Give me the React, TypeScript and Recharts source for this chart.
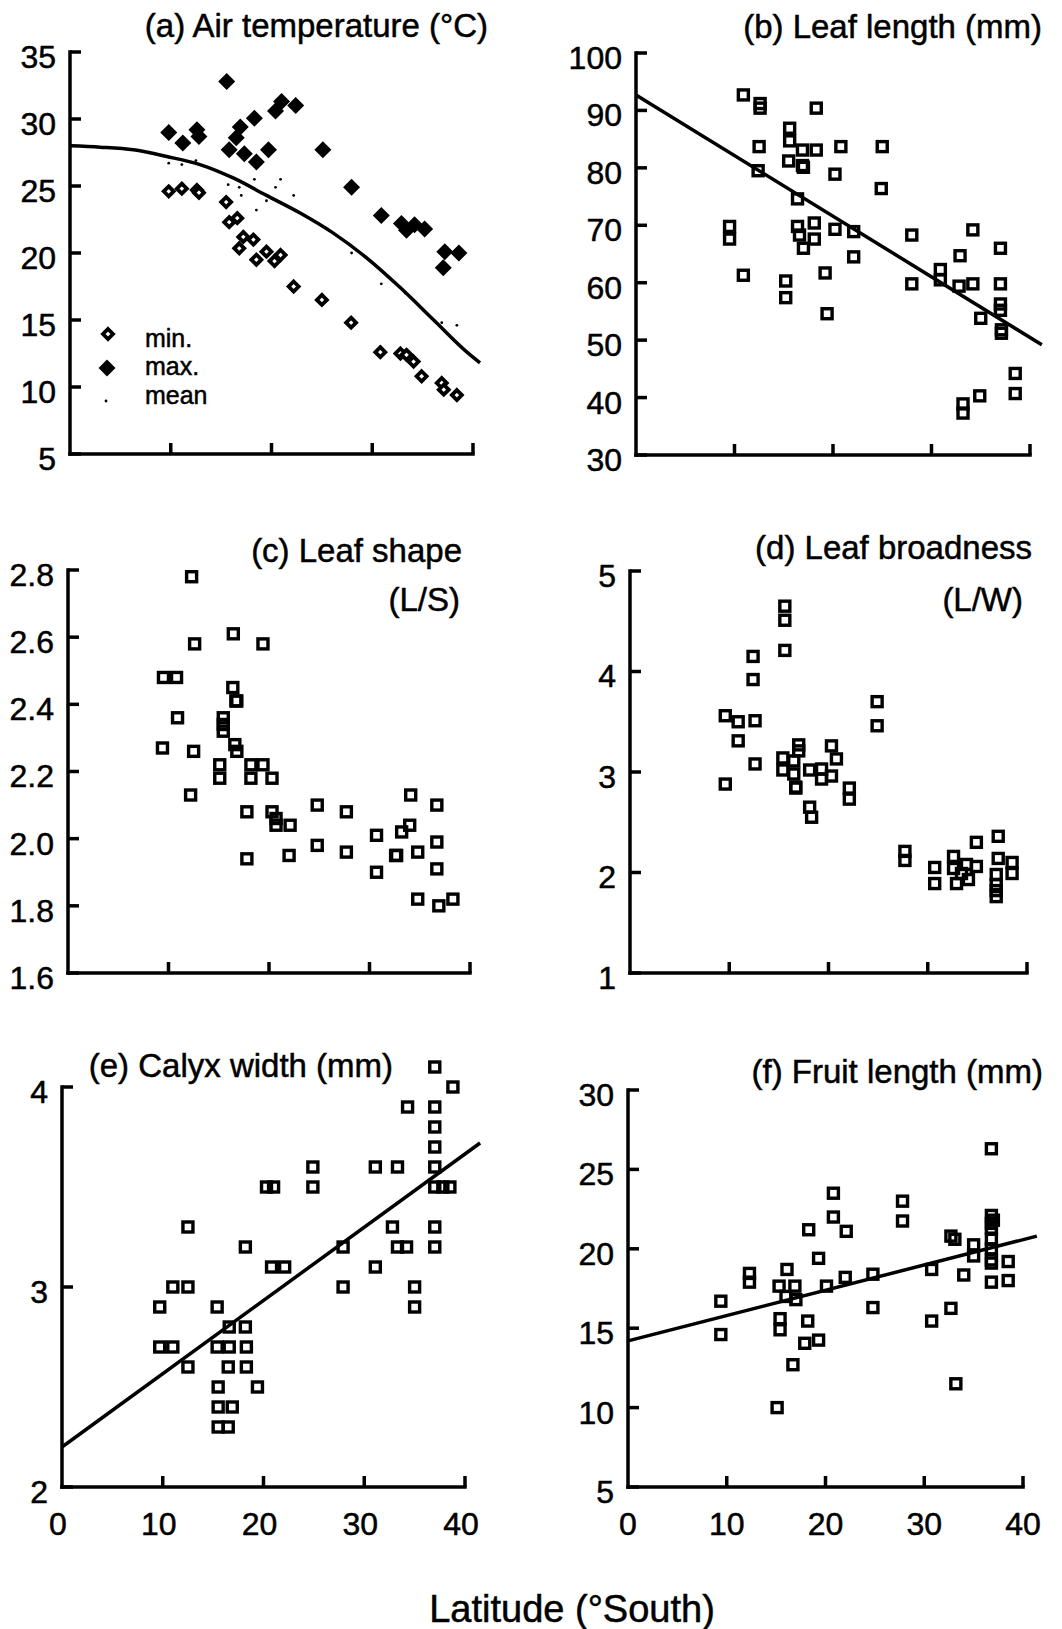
import React from 'react';
import { ComposedChart, Scatter, Line, XAxis, YAxis, ReferenceLine, Customized } from 'recharts';

const FONT = '"Liberation Sans", Arial, Helvetica, sans-serif';
const LAT_TICKS = [0, 10, 20, 30, 40];

type Pt = [number, number];

// (a) Air temperature
const airMax: Pt[] = [[9.8,29.0],[11.2,28.2],[12.6,29.2],[12.8,28.7],[15.55,32.8],[15.8,27.7],[16.5,28.6],[16.9,29.4],[17.3,27.4],[18.3,30.05],[18.5,26.8],[19.7,27.7],[20.4,30.6],[21.0,31.3],[22.4,31.0],[25.1,27.7],[27.95,24.9],[30.9,22.8],[32.9,22.2],[33.4,21.7],[34.2,22.1],[35.2,21.8],[37.05,18.9],[37.2,20.1],[38.6,20.0]];
const airMin: Pt[] = [[9.8,24.6],[11.1,24.8],[12.6,24.7],[12.8,24.5],[15.5,23.8],[15.8,22.3],[16.6,22.6],[16.8,20.35],[17.2,21.2],[18.2,21.0],[18.5,19.5],[19.5,20.1],[20.3,19.4],[20.9,19.85],[22.2,17.5],[25.0,16.5],[27.9,14.8],[30.8,12.6],[32.8,12.5],[33.4,12.4],[34.1,11.9],[34.9,10.8],[36.9,10.3],[37.1,9.8],[38.4,9.4]];
const airMean: Pt[] = [[9.8,26.7],[11.1,26.6],[12.5,26.9],[15.7,25.1],[16.8,24.9],[17.0,24.3],[18.3,25.5],[18.5,23.2],[19.5,23.9],[20.4,24.9],[20.9,25.5],[22.2,24.3],[27.95,20.0],[30.9,17.7],[32.8,17.4],[33.3,17.0],[36.9,14.8],[38.4,14.6]];
const airCurve: Pt[] = [[0,28.0],[3,27.9],[6.3,27.7],[9.6,27.2],[12.9,26.6],[16.2,25.6],[19.5,24.3],[22.8,23.0],[26.1,21.5],[29.5,19.6],[32.8,17.4],[36.1,15.0],[39.4,12.6],[40.7,11.8]];

// (b) Leaf length
const leafLength: Pt[] = [[10.9,92.7],[12.6,91.2],[12.6,90.4],[12.5,83.7],[12.4,79.5],[9.5,69.8],[9.5,67.6],[10.9,61.3],[15.6,86.9],[15.6,84.7],[15.5,81.2],[16.9,83.1],[16.9,80.4],[17.0,80.1],[18.3,90.4],[18.3,83.1],[20.8,83.7],[20.2,78.9],[25.0,83.7],[24.9,76.4],[16.4,74.6],[16.4,69.8],[16.6,68.3],[17.0,66.0],[18.1,70.4],[18.1,67.6],[20.2,69.3],[22.1,68.9],[22.1,64.5],[19.2,61.7],[19.4,54.6],[15.2,60.3],[15.2,57.4],[28.0,68.3],[28.0,59.8],[30.9,62.3],[30.9,60.5],[32.9,64.7],[32.8,59.4],[34.2,69.2],[34.2,59.8],[35.0,53.8],[37.0,66.0],[37.0,59.8],[37.0,56.3],[37.0,55.2],[37.1,51.8],[37.1,51.2],[38.5,44.2],[38.5,40.7],[33.2,38.9],[33.2,37.3],[34.9,40.3]];
const leafLengthFit: Pt[] = [[0,92.7],[41.2,49.2]];

// (c) Leaf shape
const leafShape: Pt[] = [[12.3,2.78],[12.6,2.58],[16.45,2.61],[19.4,2.58],[9.5,2.48],[10.8,2.48],[10.9,2.36],[9.4,2.27],[12.5,2.26],[12.2,2.13],[16.4,2.45],[16.8,2.41],[16.7,2.41],[15.45,2.36],[15.45,2.34],[15.45,2.32],[16.6,2.28],[16.8,2.26],[15.1,2.22],[15.1,2.18],[18.2,2.22],[18.2,2.18],[19.4,2.22],[20.3,2.18],[17.8,2.08],[17.8,1.94],[20.3,2.08],[20.7,2.06],[20.7,2.04],[22.1,2.04],[22.0,1.95],[24.8,2.10],[24.8,1.98],[27.7,2.08],[27.7,1.96],[30.7,2.01],[30.7,1.90],[32.6,1.95],[32.7,1.95],[33.2,2.02],[34.0,2.04],[34.1,2.13],[34.8,1.96],[34.8,1.82],[36.7,2.10],[36.7,1.99],[36.7,1.91],[36.9,1.80],[38.3,1.82]];

// (d) Leaf broadness
const leafBroad: Pt[] = [[15.6,4.65],[15.6,4.51],[15.6,4.21],[12.4,4.15],[12.4,3.92],[9.6,3.56],[10.9,3.50],[12.6,3.51],[10.9,3.31],[12.6,3.08],[9.6,2.88],[24.9,3.70],[24.9,3.46],[17.0,3.27],[17.0,3.21],[15.4,3.14],[15.4,3.02],[16.5,3.11],[16.5,2.98],[16.7,2.85],[16.7,2.84],[18.1,3.02],[19.3,3.03],[19.3,2.93],[20.3,3.26],[20.3,2.96],[20.8,3.13],[18.1,2.65],[18.3,2.55],[22.1,2.84],[22.1,2.73],[27.7,2.21],[27.7,2.12],[30.7,2.05],[30.7,1.89],[32.6,2.16],[32.6,2.04],[32.9,1.89],[33.4,1.99],[33.9,2.08],[34.1,1.93],[34.9,2.06],[34.9,2.30],[37.1,2.36],[37.1,2.14],[36.9,1.98],[36.9,1.88],[36.9,1.82],[36.9,1.76],[38.5,2.10],[38.5,1.99]];

// (e) Calyx width
const calyx: Pt[] = [[37.0,4.1],[38.8,4.0],[34.3,3.9],[37.0,3.9],[37.0,3.8],[37.0,3.7],[37.0,3.6],[37.0,3.5],[37.8,3.5],[38.5,3.5],[37.0,3.3],[37.0,3.2],[31.1,3.6],[33.3,3.6],[32.8,3.3],[33.3,3.2],[34.2,3.2],[31.1,3.1],[35.0,3.0],[35.0,2.9],[27.9,3.2],[27.9,3.0],[24.9,3.6],[24.9,3.5],[20.3,3.5],[21.0,3.5],[20.8,3.1],[22.1,3.1],[18.2,3.2],[12.5,3.3],[11.0,3.0],[12.5,3.0],[9.7,2.9],[9.7,2.7],[11.0,2.7],[12.5,2.6],[15.4,2.9],[16.6,2.8],[18.2,2.8],[15.4,2.7],[16.6,2.7],[18.3,2.7],[16.5,2.6],[18.3,2.6],[15.5,2.5],[19.4,2.5],[15.5,2.4],[16.9,2.4],[15.5,2.3],[16.5,2.3]];
const calyxFit: Pt[] = [[0,2.2],[41.5,3.72]];

// (f) Fruit length
const fruit: Pt[] = [[36.8,26.3],[20.8,23.5],[20.8,22.0],[22.1,21.1],[18.3,21.2],[19.3,19.4],[27.8,23.0],[27.8,21.75],[12.3,18.45],[12.3,17.9],[16.1,18.7],[15.3,17.65],[16.9,17.65],[17.0,16.8],[16.0,17.0],[15.4,15.6],[15.4,14.9],[18.2,15.45],[17.9,14.05],[19.3,14.25],[16.7,12.7],[15.1,10.0],[9.4,16.7],[9.4,14.6],[20.1,17.65],[22.0,18.2],[24.8,18.4],[24.8,16.3],[30.75,18.7],[30.75,15.45],[32.7,20.8],[33.1,20.6],[32.7,16.25],[33.2,11.5],[34.0,18.35],[35.0,20.25],[35.0,19.55],[36.8,22.1],[37.0,21.8],[36.8,21.6],[36.8,21.3],[36.8,20.6],[36.8,20.0],[36.8,19.3],[36.8,19.1],[36.8,17.9],[38.5,19.2],[38.5,18.0]];
const fruitFit: Pt[] = [[0,14.2],[41.4,20.8]];

const toXY = (pts: Pt[]) => pts.map(([x, y]) => ({ x, y }));

const TICK_LEN = 11;
const AXIS_W = 3.5;

const Square = (p: any) => (
  <rect x={p.cx - 5} y={p.cy - 5} width={10} height={10} fill="none" stroke="#000" strokeWidth={3.4} />
);
const OpenDiamond = (p: any) => {
  const h = 5;
  return (
    <polygon
      points={`${p.cx},${p.cy - h} ${p.cx + h},${p.cy} ${p.cx},${p.cy + h} ${p.cx - h},${p.cy}`}
      fill="#fff" stroke="#000" strokeWidth={3.8} strokeLinejoin="miter"
    />
  );
};
const FilledDiamond = (p: any) => {
  const h = 8.5;
  return (
    <polygon
      points={`${p.cx},${p.cy - h} ${p.cx + h},${p.cy} ${p.cx},${p.cy + h} ${p.cx - h},${p.cy}`}
      fill="#000" stroke="none"
    />
  );
};
const Dot = (p: any) => <circle cx={p.cx} cy={p.cy} r={1.4} fill="#000" />;
const NoShape = () => <g />;

type Cfg = {
  left: number; top: number; yw: number; mt: number; pw: number; ph: number; xh: number;
  yDomain: [number, number]; yTicks: number[]; yTop: number; fmt: (v: number) => string;
  xLabels: boolean; xLabelDx: number;
};

const txt = (size: number) => ({ fontSize: size, fontFamily: FONT, fill: '#000', stroke: '#000', strokeWidth: 0.5 });

function Panel({ cfg, children }: { cfg: Cfg; children: React.ReactNode }) {
  const { left, top, yw, mt, pw, ph, xh, yDomain, yTicks, yTop, fmt, xLabels, xLabelDx } = cfg;
  const mr = 10;
  const width = yw + pw + mr;
  const height = mt + ph + xh;
  const axisY = mt + ph;
  const axisX = yw;
  const XTick = (props: any) => {
    const { x, payload } = props;
    return (
      <g>
        {payload.value !== 0 && (
          <line x1={x} x2={x} y1={axisY} y2={axisY - TICK_LEN} stroke="#000" strokeWidth={AXIS_W} />
        )}
        {xLabels && (
          <text x={x + xLabelDx} y={axisY + 37} textAnchor="middle" dominantBaseline="central" {...txt(32)}>
            {payload.value}
          </text>
        )}
      </g>
    );
  };
  const YTick = (props: any) => {
    const { y, payload } = props;
    return (
      <g>
        <line x1={axisX} x2={axisX + TICK_LEN} y1={y} y2={y} stroke="#000" strokeWidth={AXIS_W} />
        <text x={axisX - 14} y={y + 5} textAnchor="end" dominantBaseline="central" {...txt(32)}>
          {fmt(payload.value)}
        </text>
      </g>
    );
  };
  return (
    <div style={{ position: 'absolute', left, top, width, height }}>
      <ComposedChart width={width} height={height} margin={{ top: mt, right: mr, bottom: 0, left: 0 }}>
        <XAxis type="number" dataKey="x" domain={[0, 42]} ticks={LAT_TICKS} interval={0}
          axisLine={false} tickLine={false} tickSize={0} tickMargin={0} height={xh} tick={XTick} />
        <YAxis type="number" dataKey="y" domain={yDomain} ticks={yTicks} interval={0}
          axisLine={false} tickLine={false} tickSize={0} tickMargin={0} width={yw} tick={YTick} />
        <ReferenceLine segment={[{ x: 0, y: yDomain[0] }, { x: 40, y: yDomain[0] }]}
          stroke="#000" strokeWidth={AXIS_W} strokeLinecap="square" />
        <ReferenceLine segment={[{ x: 0, y: yDomain[0] }, { x: 0, y: yTop }]}
          stroke="#000" strokeWidth={AXIS_W} strokeLinecap="square" />
        {children}
      </ComposedChart>
    </div>
  );
}

const lineStyle = { stroke: '#000', strokeWidth: 3.5, fill: 'none' };

const int = (v: number) => String(v);

export default function App() {
  const cfgA: Cfg = { left: 0, top: 0, yw: 70, mt: 52, pw: 423.15, ph: 402, xh: 40,
    yDomain: [5, 35], yTicks: [5, 10, 15, 20, 25, 30, 35], yTop: 35, fmt: int, xLabels: false, xLabelDx: 0 };
  const cfgB: Cfg = { left: 530, top: 0, yw: 106, mt: 53, pw: 413.7, ph: 402, xh: 40,
    yDomain: [30, 100], yTicks: [30, 40, 50, 60, 70, 80, 90, 100], yTop: 100, fmt: int, xLabels: false, xLabelDx: 0 };
  const cfgC: Cfg = { left: 0, top: 500, yw: 68, mt: 70, pw: 422.1, ph: 403, xh: 40,
    yDomain: [1.6, 2.8], yTicks: [1.6, 1.8, 2.0, 2.2, 2.4, 2.6, 2.8], yTop: 2.8, fmt: (v) => v.toFixed(1), xLabels: false, xLabelDx: 0 };
  const cfgD: Cfg = { left: 530, top: 500, yw: 100, mt: 71, pw: 416.85, ph: 402, xh: 40,
    yDomain: [1, 5], yTicks: [1, 2, 3, 4, 5], yTop: 5, fmt: int, xLabels: false, xLabelDx: 0 };
  const cfgE: Cfg = { left: 0, top: 1020, yw: 62, mt: 37, pw: 423.15, ph: 430, xh: 60,
    yDomain: [2, 4.15], yTicks: [2, 3, 4], yTop: 4, fmt: int, xLabels: true, xLabelDx: -4 };
  const cfgF: Cfg = { left: 530, top: 1020, yw: 98, mt: 70, pw: 414.75, ph: 397, xh: 60,
    yDomain: [5, 30], yTicks: [5, 10, 15, 20, 25, 30], yTop: 30, fmt: int, xLabels: true, xLabelDx: 0 };

  const title = (cfg: Cfg, items: { t: string; x: number; y: number; size?: number }[]) => (
    <Customized
      component={() => (
        <g>
          {items.map((it, i) => (
            <text key={i} x={it.x - cfg.left} y={it.y - cfg.top} textAnchor="end" {...txt(it.size || 33)}>
              {it.t}
            </text>
          ))}
        </g>
      )}
    />
  );

  return (
    <div style={{ position: 'absolute', left: 0, top: 0, width: 1062, height: 1629, background: '#fff', fontFamily: FONT }}>
      <Panel cfg={cfgA}>
        <Line data={toXY(airCurve)} dataKey="y" type="monotone" stroke="#000" strokeWidth={3.5} dot={false} activeDot={false} isAnimationActive={false} />
        <Scatter name="mean" data={toXY(airMean)} shape={Dot} isAnimationActive={false} />
        <Scatter name="min." data={toXY(airMin)} shape={OpenDiamond} isAnimationActive={false} />
        <Scatter name="max." data={toXY(airMax)} shape={FilledDiamond} isAnimationActive={false} />
        {title(cfgA, [{ t: '(a) Air temperature (°C)', x: 488, y: 37 }])}
        <Customized
          component={() => (
            <g>
              <OpenDiamond cx={108} cy={334} />
              <text x={145} y={347} {...txt(25)}>min.</text>
              <FilledDiamond cx={107} cy={368} />
              <text x={145} y={375} {...txt(25)}>max.</text>
              <Dot cx={106} cy={401} />
              <text x={145} y={404} {...txt(25)}>mean</text>
            </g>
          )}
        />
      </Panel>
      <Panel cfg={cfgB}>
        <Scatter data={toXY(leafLengthFit)} line={lineStyle} shape={NoShape} isAnimationActive={false} />
        <Scatter data={toXY(leafLength)} shape={Square} isAnimationActive={false} />
        {title(cfgB, [{ t: '(b) Leaf length (mm)', x: 1042, y: 38 }])}
      </Panel>
      <Panel cfg={cfgC}>
        <Scatter data={toXY(leafShape)} shape={Square} isAnimationActive={false} />
        {title(cfgC, [{ t: '(c) Leaf shape', x: 462, y: 562 }, { t: '(L/S)', x: 460, y: 611 }])}
      </Panel>
      <Panel cfg={cfgD}>
        <Scatter data={toXY(leafBroad)} shape={Square} isAnimationActive={false} />
        {title(cfgD, [{ t: '(d) Leaf broadness', x: 1032, y: 559 }, { t: '(L/W)', x: 1023, y: 611 }])}
      </Panel>
      <Panel cfg={cfgE}>
        <Scatter data={toXY(calyxFit)} line={lineStyle} shape={NoShape} isAnimationActive={false} />
        <Scatter data={toXY(calyx)} shape={Square} isAnimationActive={false} />
        {title(cfgE, [{ t: '(e) Calyx width (mm)', x: 393, y: 1077 }])}
      </Panel>
      <Panel cfg={cfgF}>
        <Scatter data={toXY(fruitFit)} line={lineStyle} shape={NoShape} isAnimationActive={false} />
        <Scatter data={toXY(fruit)} shape={Square} isAnimationActive={false} />
        {title(cfgF, [{ t: '(f) Fruit length (mm)', x: 1043, y: 1083 }])}
      </Panel>
      <div style={{ position: 'absolute', left: 372, top: 1589, width: 400, textAlign: 'center', fontSize: 38, lineHeight: '40px', color: '#000', WebkitTextStroke: '0.5px #000' }}>
        Latitude (°South)
      </div>
    </div>
  );
}
